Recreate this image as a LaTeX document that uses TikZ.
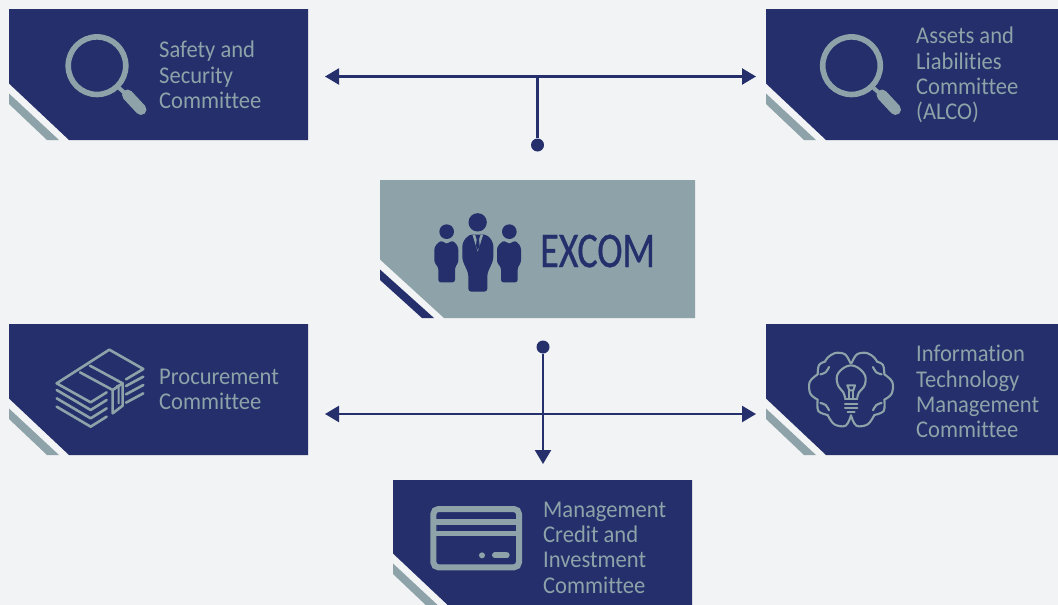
\documentclass[tikz,border=0pt]{standalone}
\usepackage{fontspec}
\setmainfont{Carlito}[FakeStretch=0.94,Ligatures={NoCommon}]
\newfontfamily\headfont{Carlito}[FakeStretch=0.76,FakeBold=0.6,Ligatures={NoCommon}]
\usetikzlibrary{arrows.meta}
\definecolor{navy}{HTML}{242F6B}
\definecolor{slate}{HTML}{8DA3A9}
\definecolor{paper}{HTML}{F2F3F5}
\tikzset{
  lbl/.style={anchor=west,align=left,text=slate,font=\fontsize{24}{25.3}\selectfont,inner sep=0pt},
  conn/.style={draw=navy,line width=2.2pt},
  dbl/.style={conn,{Triangle[length=14pt,width=16pt]}-{Triangle[length=14pt,width=16pt]}},
  dn/.style={conn,-{Triangle[length=14pt,width=16pt]}},
  dotnode/.style={circle,fill=navy,inner sep=0pt,minimum size=13pt},
  ico/.style={draw=slate,line width=2.6pt,line join=round,line cap=round},
  iconthin/.style={draw=slate,line width=2.1pt,line join=round,line cap=round},
}
% #1 left #2 top #3 right #4 bottom #5 body colour #6 strip colour #7 extra cut width
\newcommand{\cutbox}[7]{%
  \fill[#5] (#1,#2) -- (#3,#2) -- (#3,#4) -- ({#1+60+#7},#4) -- (#1,{#4-56.5-#7/2}) -- cycle;
  \fill[#6] (#1,{#4-46.5-#7/2}) -- ({#1+50+#7},#4) -- ({#1+38+#7},#4) -- (#1,{#4-36-#7/2}) -- cycle;
}
\newcommand{\magnifier}[1]{%
  \begin{scope}[shift={(#1,0)}]
    \draw[slate,line width=5.6pt] (97,65.7) circle (28.8);
    \draw[slate,line width=4pt] (118,87) -- (127,95);
    \draw[slate,line width=11pt,line cap=round] (127.5,95) -- (141,109.5);
  \end{scope}
}
\begin{document}
\begin{tikzpicture}[x=1pt,y=-1pt]
\useasboundingbox (0,0) rectangle (1058,605);
\fill[paper] (0,0) rectangle (1058,605);
\begin{scope}
\clip (0,0) rectangle (1058,605);
\cutbox{9}{9}{308}{140}{navy}{slate}{0}
\cutbox{766}{9}{1058}{140}{navy}{slate}{0}
\cutbox{380}{180}{695}{318}{slate}{navy}{4}
\cutbox{9}{324}{308}{455}{navy}{slate}{0}
\cutbox{766}{324}{1058}{455}{navy}{slate}{0}
\cutbox{393}{480}{692}{610}{navy}{slate}{0}
\end{scope}
% magnifying glasses
\magnifier{0}
\magnifier{754.5}
% people
\begin{scope}[shift={(430,210)},x=1/3*1pt,y=-1/3*1pt]
  \fill[navy] (143,37) circle (27.5);
  \fill[navy] (50,65) circle (22);
  \fill[navy] (238,65) circle (22);
  \fill[navy,rounded corners=3pt] (97,150) -- (97,100) -- (110,80) -- (127,72) -- (160,72) -- (178,80) -- (190,100) -- (190,150) -- (172,190) -- (172,245) -- (115,245) -- (115,190) -- cycle;
  \fill[slate] (127,73) -- (160,73) -- (143,125) -- cycle;
  \fill[navy] (136,75) -- (151,75) -- (147,88) -- (149,108) -- (143,120) -- (138,108) -- (140,88) -- cycle;
  \fill[navy,rounded corners=2.5pt] (13,158) -- (13,112) -- (25,97) -- (36,92) -- (50,103) -- (64,92) -- (75,97) -- (85,112) -- (85,158) -- (75,172) -- (75,217) -- (25,217) -- (25,172) -- cycle;
  \fill[navy,rounded corners=2.5pt] (201,158) -- (201,112) -- (213,97) -- (224,92) -- (238,103) -- (252,92) -- (263,97) -- (273,112) -- (273,158) -- (263,172) -- (263,217) -- (213,217) -- (213,172) -- cycle;
\end{scope}
% banknotes
\begin{scope}[shift={(50,345)},x=1/3*1pt,y=-1/3*1pt]
  \draw[ico] (170,142) -- (122,172) -- (20,115) -- (178,14) -- (280,72) -- (228,103);
  \draw[ico] (90,82) -- (188,135) -- (188,205) -- (218,182) -- (218,115) -- (120,62);
  \draw[ico] (188,135) -- (218,115);
  \draw[iconthin] (200,124) -- (206,122) -- (206,175);
  \foreach \d in {0,25,50} {
    \draw[ico] (20,{135+\d}) -- (122,{195+\d}) -- (170,{165+\d});
  }
  \foreach \d in {0,25,50} {
    \draw[ico] (228,{123+\d}) -- (280,{95+\d});
  }
\end{scope}
% brain with bulb
\begin{scope}[shift={(805,347)},x=1/3*1pt,y=-1/3*1pt]
  \foreach \m/\o in {1/0,-1/276} {
    \begin{scope}[shift={(\o,0)},xscale=\m]
      \draw[iconthin] plot[smooth,tension=.6] coordinates {(136,48) (120,22) (90,18) (68,32) (60,44)};
      \draw[iconthin] plot[smooth,tension=.6] coordinates {(60,44) (42,54) (38,82)};
      \draw[iconthin] plot[smooth,tension=.6] coordinates {(38,82) (14,105) (16,140) (38,158)};
      \draw[iconthin] plot[smooth,tension=.6] coordinates {(38,158) (40,192) (68,204)};
      \draw[iconthin] plot[smooth,tension=.6] coordinates {(68,204) (88,232) (122,236) (138,205)};
      \draw[iconthin] plot[smooth,tension=.7] coordinates {(72,60) (62,76) (46,82)};
      \draw[iconthin] plot[smooth,tension=.7] coordinates {(72,190) (62,174) (46,168)};
    \end{scope}
  }
  \draw[iconthin] plot[smooth,tension=.7] coordinates {(120,152) (115,136) (98,112) (100,78) (138,55) (176,78) (180,112) (162,136) (157,152)};
  \draw[iconthin] (127,115) -- (150,115) -- (145,130) -- (133,130) -- cycle;
  \draw[iconthin] (133,130) -- (133,155);
  \draw[iconthin] (145,130) -- (145,155);
  \draw[iconthin] (120,157) -- (157,157);
  \draw[iconthin] (120,170) -- (157,170);
  \draw[iconthin] (120,182) -- (157,182);
  \draw[iconthin] (128,194) -- (149,194);
\end{scope}
% credit card
\begin{scope}[shift={(385,470)},x=1/3*1pt,y=-1/3*1pt]
  \draw[slate,line width=6pt,rounded corners=5pt] (145,117) rectangle (402,292);
  \draw[slate,line width=5.8pt] (145,155) -- (402,155);
  \draw[slate,line width=5.4pt] (145,190) -- (402,190);
  \fill[slate] (291,256) circle (9);
  \draw[slate,line width=6pt,line cap=round] (330,256) -- (365,256);
\end{scope}
% labels
\node[lbl] (safety) at (159,75) {Safety and\\Security\\Committee};
\node[lbl] (alco) at (916,75.2) {Assets and\\Liabilities\\Committee\\(ALCO)};
\node[lbl] (proc) at (159,389.5) {Procurement\\Committee};
\node[lbl] (infotech) at (916,391.5) {Information\\Technology\\Management\\Committee};
\node[lbl] (mgmt) at (543,547.5) {Management\\Credit and\\Investment\\Committee};
\node[anchor=west,inner sep=0pt,text=navy,font=\headfont\fontsize{50}{52}\selectfont] (excom) at (540,251) {EXCOM};
% connectors
\node[dotnode] (topdot) at (537.5,145) {};
\node[dotnode] (botdot) at (543,347) {};
\coordinate (tl) at (325,76.5);
\coordinate (tr) at (756,76.5);
\coordinate (tj) at (537.5,76.5);
\coordinate (bl) at (325,414);
\coordinate (br) at (756,414);
\coordinate (be) at (543,464);
\draw[dbl] (tl) -- (tr);
\draw[conn] (tj) -- (topdot);
\draw[dbl] (bl) -- (br);
\draw[dn] (botdot) -- (be);
\end{tikzpicture}
\end{document}
